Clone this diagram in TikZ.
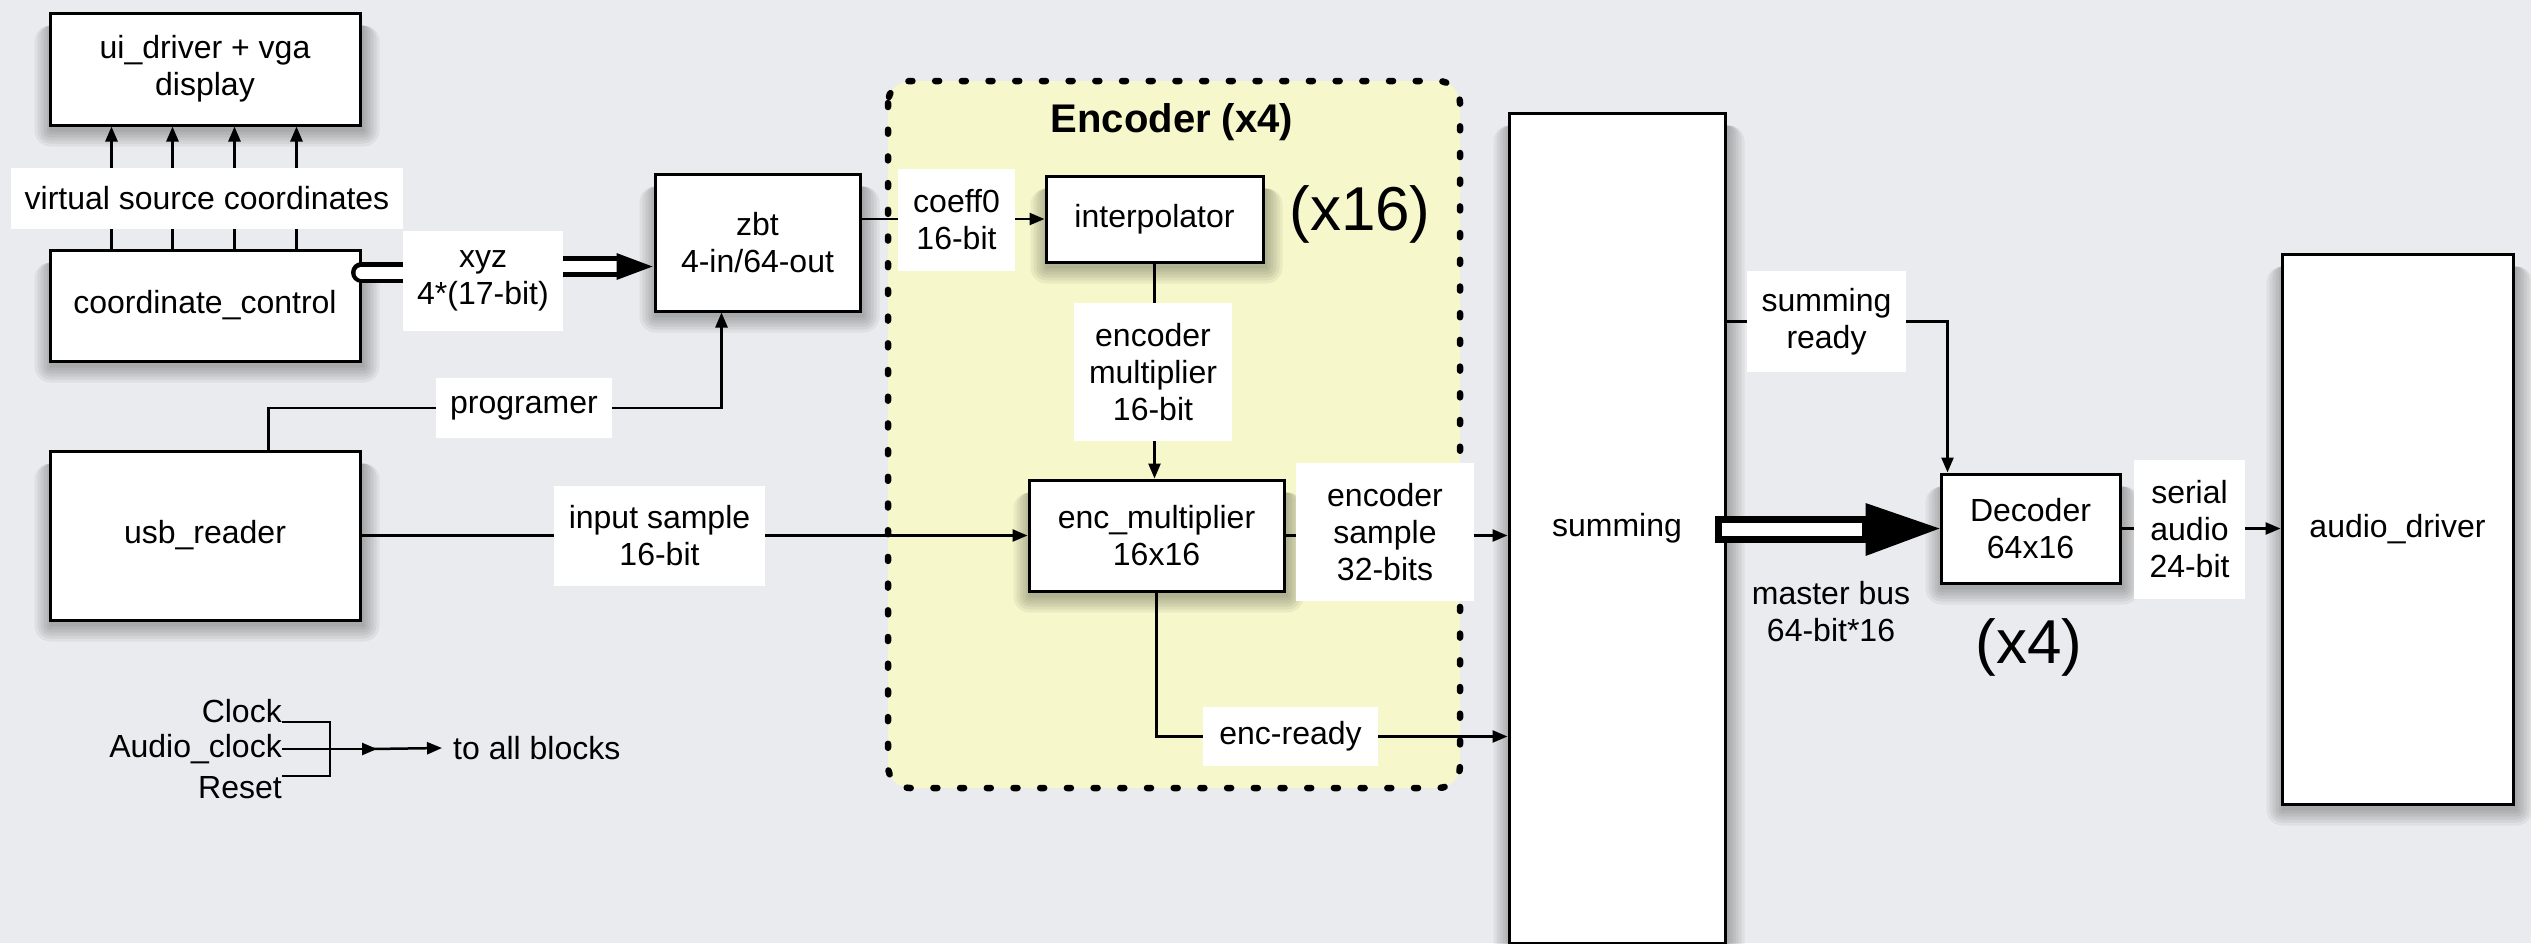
\documentclass[tikz,border=0pt]{standalone}
\usepackage{fontspec}
\setmainfont{Liberation Sans}
\usetikzlibrary{arrows.meta,calc}
\definecolor{bgc}{RGB}{234,235,238}
\definecolor{encfill}{RGB}{246,247,203}
\pgfdeclarelayer{bg}
\pgfdeclarelayer{shadow}
\pgfdeclarelayer{front}
\pgfsetlayers{bg,shadow,main,front}
\tikzset{
  blk/.style={draw, line width=3pt, fill=white, inner sep=0pt, align=center},
  lbl/.style={fill=white, inner sep=0pt, align=center},
  ln/.style={line width=2.5pt},
  arr/.style={line width=2.5pt, -{Triangle[length=15pt,width=12pt]}},
  shadowpiece/.style={fill=black, opacity=0.05},
  every node/.style={font=\fontsize{32}{37}\selectfont},
}
\begin{document}
\begin{tikzpicture}[x=1pt,y=-1pt]
\useasboundingbox (0,0) rectangle (2531,943);
\begin{pgfonlayer}{bg}
  \fill[bgc] (0,0) rectangle (2531,943);
  \filldraw[fill=encfill, line width=6.5pt, line cap=round, dash pattern=on 4pt off 22.7pt, rounded corners=22pt]
    (888,81) rectangle (1460,788);
\end{pgfonlayer}

% blocks
\node[blk, minimum width=310pt, minimum height=112pt] (ui) at (205,69) {ui\_driver + vga\\display};
\node[blk, minimum width=310pt, minimum height=111pt] (cc) at (205,305.5) {coordinate\_control};
\node[blk, minimum width=310pt, minimum height=169pt] (usb) at (205,535.5) {usb\_reader};
\node[blk, minimum width=205pt, minimum height=137pt] (zbt) at (757.5,242.5) {zbt\\4-in/64-out};
\node[blk, minimum width=217pt, minimum height=86pt] (interp) at (1154.5,219) {interpolator};
\node[blk, minimum width=255pt, minimum height=111pt] (encm) at (1156.5,535.5) {enc\_multiplier\\16x16};
\node[blk, minimum width=216pt, minimum height=830pt] (sum) at (1617,528) {summing};
\node[blk, minimum width=179pt, minimum height=109pt] (dec) at (2030.5,528.5) {Decoder\\64x16};
\node[blk, minimum width=231pt, minimum height=550pt] (audio) at (2397.5,529) {audio\_driver};

% soft shadows of the blocks
\begin{pgfonlayer}{shadow}
\foreach \n in {ui,cc,usb,zbt,interp,encm,sum,dec,audio}{
  \foreach \e in {1,4,7,10,13,16}{
    \fill[shadowpiece, rounded corners=\e*1pt] ($(\n.north west)+(2-\e,14)$) rectangle ($(\n.south east)+(2+\e,4+\e)$);
  }
}
\end{pgfonlayer}

% labels on top
\begin{pgfonlayer}{front}
\node[lbl, minimum width=392pt, minimum height=61pt] (vsc) at (207,198.5) {virtual source coordinates};
\node[lbl, minimum width=160pt, minimum height=100pt] (xyz) at (483,281) {xyz\\4*(17-bit)};
\node[lbl, minimum width=176pt, minimum height=60pt] (prog) at (524,408) {programer};
\node[lbl, minimum width=211pt, minimum height=100pt] (insamp) at (659.5,536) {input sample\\16-bit};
\node[lbl, minimum width=117pt, minimum height=102pt] (coeff) at (956.5,220) {coeff0\\16-bit};
\node[lbl, minimum width=158pt, minimum height=138pt] (encmul) at (1153,372) {encoder\\multiplier\\16-bit};
\node[lbl, minimum width=178pt, minimum height=138pt] (encsamp) at (1385,532) {encoder\\sample\\32-bits};
\node[lbl, minimum width=175pt, minimum height=59pt] (encready) at (1290.5,736.5) {enc-ready};
\node[lbl, minimum width=159pt, minimum height=101pt] (sumready) at (1826.5,321.5) {summing\\ready};
\node[lbl, minimum width=111pt, minimum height=139pt] (serial) at (2189.5,529.5) {serial\\audio\\24-bit};
\end{pgfonlayer}

% free texts
\node[align=center] (mbus) at (1831,612) {master bus\\64-bit*16};
\node[font=\bfseries\fontsize{40}{44}\selectfont] (title) at (1172,122) {Encoder (x4)};
\node[font=\fontsize{62}{70}\selectfont] (x16) at (1360,214) {(x16)};
\node[font=\fontsize{62}{70}\selectfont] (x4) at (2029,647) {(x4)};
\node[anchor=base east, inner sep=0pt] (clk) at (282,722) {Clock};
\node[anchor=east, inner sep=0pt] (aclk) at (282,749) {Audio\_clock};
\node[anchor=base east, inner sep=0pt] (rst) at (282,798) {Reset};
\node[anchor=west, inner sep=0pt] (toall) at (453,748) {to all blocks};

% connectors
\foreach \dx in {63pt,124pt,186pt,248pt}
  \draw[arr] ([xshift=\dx]cc.north west) -- ([xshift=\dx]ui.south west);
\draw[arr] (zbt.east |- interp.west) -- (interp.west);
\draw[arr] ($(usb.north west)+(220,0)$) |- (prog.center) -| ($(zbt.south west)+(68,0)$);
\draw[arr] (usb.east) -- (encm.west);
\draw[arr] (interp.south) -- (interp.south |- encm.north);
\draw[arr] (encm.east) -- (encm.east -| sum.west);
\draw[arr] (encm.south) |- (encready -| sum.west);
\draw[arr] (sum.east |- sumready) -| ($(dec.north west)+(8,0)$);
\draw[arr] (dec.east) -- (dec.east -| audio.west);

% xyz bus
\draw[line width=21pt, line cap=round] ($(cc.east)+(0,-33)$) -- ($(cc.east)+(130,-33)$);
\draw[white, line width=12pt, line cap=round] ($(cc.east)+(0,-33)$) -- ($(cc.east)+(130,-33)$);
\draw[line width=21pt] ($(zbt.west)+(-160,24)$) -- ($(zbt.west)+(-36,24)$);
\draw[white, line width=11pt] ($(zbt.west)+(-162,24)$) -- ($(zbt.west)+(-36,24)$);
\fill ($(zbt.west)+(-37,10.5)$) -- ($(zbt.west)+(-1,24)$) -- ($(zbt.west)+(-37,37.5)$) -- cycle;

% master bus
\filldraw[fill=white, line width=7pt] ($(sum.east)+(-8.5,-8.5)$) rectangle ($(dec.west)+(-74,11)$);
\fill ($(dec.west)+(-74,-25.5)$) -- (dec.west) -- ($(dec.west)+(-74,27.5)$) -- cycle;

% clock group
\coordinate (bt) at (330,722);
\coordinate (bb) at (330,776);
\draw[ln] (clk.base east) -- (bt) -- (bb) -- (bb -| rst.east);
\draw[arr] (aclk.east) -- ([xshift=95pt]aclk.east);
\draw[arr] ([xshift=90pt]aclk.east) -- ([xshift=-11pt]toall.west);
\end{tikzpicture}
\end{document}
